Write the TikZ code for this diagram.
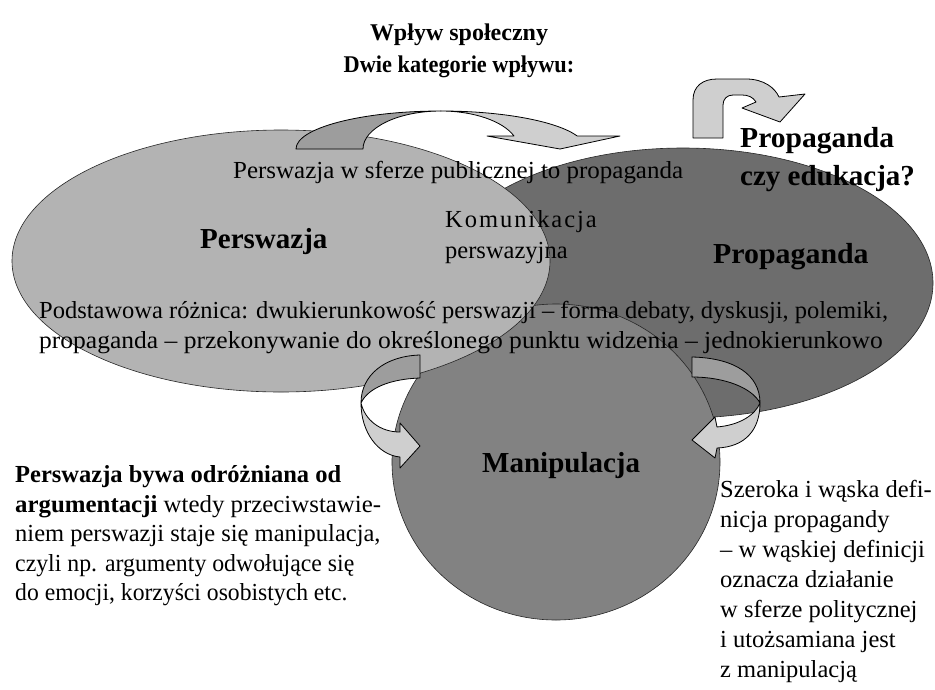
\documentclass[tikz,border=0pt]{standalone}
\usepackage{fontspec}
\usepackage{graphicx}
\setmainfont{Liberation Serif}
\usetikzlibrary{shapes.geometric}
\newcommand\bodyf{\fontsize{24.5}{30}\selectfont}
\newcommand\bigbf{\fontsize{29}{36}\selectfont\bfseries}
\newcommand\titlef{\fontsize{24}{30}\selectfont\bfseries}
\newcommand\hs[2]{\scalebox{#1}[1]{#2}}
\definecolor{persfill}{HTML}{B3B3B3}
\definecolor{propfill}{HTML}{6D6D6D}
\definecolor{manfill}{HTML}{828282}
\definecolor{arrdark}{HTML}{9D9D9D}
\definecolor{arrlight}{HTML}{CFCFCF}
\tikzset{
  txt/.style={anchor=base west, inner sep=0pt, font=\bodyf},
  bigb/.style={anchor=base west, inner sep=0pt, font=\bigbf},
  ttl/.style={anchor=base, inner sep=0pt, font=\titlef},
  blob/.style={ellipse, draw=black!85, line width=0.6pt, inner sep=0pt},
  arrowpart/.style={draw=black, line width=0.8pt, line join=round},
}
\begin{document}
\begin{tikzpicture}[x=1pt,y=-1pt]
\useasboundingbox (0,0) rectangle (935,689);
\fill[white] (0,0) rectangle (935,689);
% ellipses
\node[blob, fill=propfill, minimum width=500pt, minimum height=270pt] (prop) at (683,283) {};
\node[blob, fill=manfill, minimum width=328pt, minimum height=316pt] (man) at (556,462) {};
\node[blob, fill=persfill, minimum width=538pt, minimum height=262pt] (pers) at (281,261) {};
% top curved arrow
\filldraw[arrowpart, fill=arrdark] (296,149) arc[start angle=180, end angle=270, x radius=145, y radius=38]
  arc[start angle=270, end angle=180, x radius=78, y radius=38] -- cycle;
\filldraw[arrowpart, fill=arrlight] (441,111) arc[start angle=270, end angle=340, x radius=145, y radius=38]
  -- (620,136) -- (560,149) -- (487,136) -- (514,136)
  arc[start angle=340, end angle=270, x radius=78, y radius=38] -- cycle;
% U-turn arrow top right
\filldraw[arrowpart, fill=arrlight] (693,138) -- (693,100) .. controls (693,86) and (703,79) .. (717,79)
  -- (746,79) .. controls (764,79) and (775,88) .. (779,97) -- (805,94) -- (780,122) -- (742,108)
  -- (756,102) .. controls (753,97) and (748,95) .. (742,95) -- (733,95)
  .. controls (727,95) and (723,99) .. (723,105) -- (723,138) -- cycle;
% left side arrow
\filldraw[arrowpart, fill=arrdark] (361,403) .. controls (361,375) and (385,356) .. (420,355)
  -- (420,378) .. controls (390,379) and (368,388) .. (361,403) -- cycle;
\filldraw[arrowpart, fill=arrlight] (361,403) .. controls (361,432) and (378,455) .. (400,457)
  -- (400,468) -- (420,446) -- (400,423) -- (400,432) .. controls (380,432) and (365,420) .. (361,403) -- cycle;
% right side arrow
\filldraw[arrowpart, fill=arrdark] (760,403) .. controls (760,375) and (735,358) .. (692,357)
  -- (692,377) .. controls (725,377) and (752,388) .. (760,403) -- cycle;
\filldraw[arrowpart, fill=arrlight] (760,403) .. controls (760,430) and (745,447) .. (717,448)
  -- (715,458) -- (692,440) -- (715,417) -- (717,427) .. controls (740,425) and (755,415) .. (760,403) -- cycle;
% titles
\node[ttl] (t1) at (459,40) {Wpływ społeczny};
\node[ttl] (t2) at (459,72) {\hs{0.93}{Dwie kategorie wpływu:}};
\node[bigb] (q1) at (740,147) {\hs{1.02}{Propaganda}};
\node[bigb] (q2) at (740,185) {czy edukacja?};
% texts in ellipses
\node[txt] (pub) at (233,178) {\hs{1.019}{Perswazja w sferze publicznej to propaganda}};
\node[bigb] (lpers) at (200,248) {Perswazja};
\node[txt] (kom1) at (445,227) {\addfontfeature{LetterSpace=8}Komunikacja};
\node[txt] (kom2) at (445,258) {perswazyjna};
\node[bigb] (lprop) at (713,263) {\hs{1.03}{Propaganda}};
\node[txt] (pod1) at (39,318) {Podstawowa różnica: dwukierunkowość perswazji – forma debaty, dyskusji, polemiki,};
\node[txt] (pod2) at (39,348) {\hs{1.042}{propaganda – przekonywanie do określonego punktu widzenia – jednokierunkowo}};
\node[bigb] (lman) at (482,472) {Manipulacja};
% bottom left
\node[txt] (l1) at (15,482) {\textbf{Perswazja bywa odróżniana od}};
\node[txt] (l2) at (15,512) {\hs{1.015}{\textbf{argumentacji} wtedy przeciwstawie-}};
\node[txt] (l3) at (15,541) {niem perswazji staje się manipulacja,};
\node[txt] (l4) at (15,571) {\hs{0.971}{czyli np. argumenty odwołujące się}};
\node[txt] (l5) at (15,600) {\hs{0.965}{do emocji, korzyści osobistych etc.}};
% bottom right
\node[txt] (r1) at (720,497) {Szeroka i wąska defi-};
\node[txt] (r2) at (720,527) {nicja propagandy};
\node[txt] (r3) at (720,557) {– w wąskiej definicji};
\node[txt] (r4) at (720,587) {oznacza działanie};
\node[txt] (r5) at (720,617) {w sferze politycznej};
\node[txt] (r6) at (720,647) {i utożsamiana jest};
\node[txt] (r7) at (720,677) {z manipulacją};
\end{tikzpicture}
\end{document}
